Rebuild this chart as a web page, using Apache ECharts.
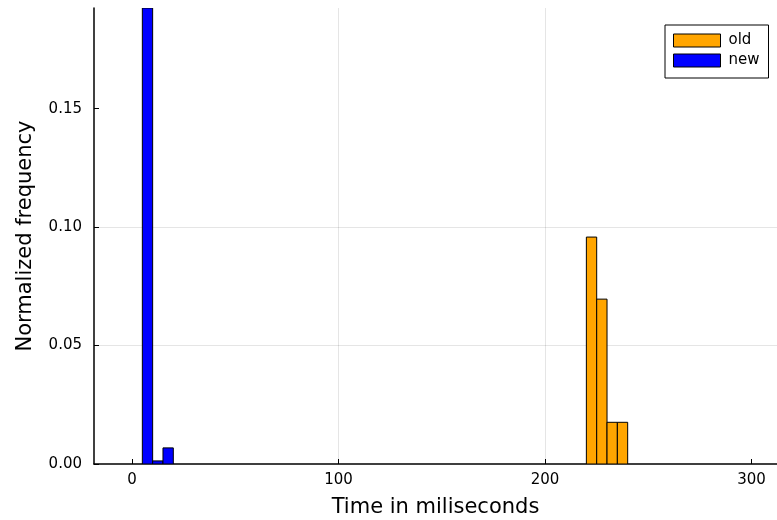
<!DOCTYPE html>
<html>
<head>
<meta charset="utf-8">
<script src="https://cdn.jsdelivr.net/npm/echarts@6/dist/echarts.min.js"></script>
<style>html,body{margin:0;padding:0;background:#fff}#c{width:777px;height:520px}</style>
</head>
<body>
<div id="c"></div>
<script>
var binWidth = 5;
var oldBinStarts = [220, 225, 230, 235];
var oldValues = [0.0958, 0.0696, 0.0176, 0.0176];
var newBinStarts = [5, 10, 15];
var newValues = [0.1925, 0.0013, 0.0068];
var xTicks = [0, 100, 200, 300];
var yTicks = [0, 0.05, 0.10, 0.15];
var xRange = [-18.4, 312.3];
var yRange = [0, 0.1925];

function toData(starts, vals) {
  return starts.map(function (s, i) { return [s, s + binWidth, vals[i]]; });
}
function render(color) {
  return function (params, api) {
    var p0 = api.coord([api.value(0), 0]);
    var p1 = api.coord([api.value(1), api.value(2)]);
    return {
      type: 'rect',
      shape: { x: p0[0], y: p1[1], width: p1[0] - p0[0], height: p0[1] - p1[1] },
      style: { fill: color, stroke: '#000', lineWidth: 1 }
    };
  };
}
var font = 'DejaVu Sans';
var chart = echarts.init(document.getElementById('c'), null, { renderer: 'canvas' });
chart.setOption({
  animation: false,
  backgroundColor: '#fff',
  textStyle: { fontFamily: font },
  grid: { left: 94, right: 0, top: 8, bottom: 56, containLabel: false, outerBoundsMode: 'none' },
  legend: {
    left: 665, top: 25, orient: 'vertical',
    padding: [8, 9, 10, 8],
    itemWidth: 47, itemHeight: 13, itemGap: 5,
    borderColor: '#000', borderWidth: 1, backgroundColor: '#fff',
    icon: 'rect',
    itemStyle: { borderColor: '#000', borderWidth: 1 },
    textStyle: { fontFamily: font, fontSize: 15, color: '#000', lineHeight: 13, padding: [0, 0, 0, 3] },
    data: ['old', 'new']
  },
  xAxis: {
    type: 'value', min: xRange[0], max: xRange[1],
    name: 'Time in miliseconds', nameLocation: 'middle', nameGap: 33,
    nameTextStyle: { fontFamily: font, fontSize: 21, color: '#000' },
    axisLine: { show: true, onZero: false, lineStyle: { color: '#000', width: 1.5 } },
    axisTick: { show: true, inside: true, length: 5, customValues: xTicks, lineStyle: { color: '#000' } },
    axisLabel: { customValues: xTicks, margin: 9, fontFamily: font, fontSize: 15, color: '#000',
      formatter: function (v) { return String(v); } },
    splitLine: { show: true, showMinLine: false, showMaxLine: false, lineStyle: { color: 'rgba(0,0,0,0.1)', width: 1 } }
  },
  yAxis: {
    type: 'value', min: yRange[0], max: yRange[1],
    name: 'Normalized frequency', nameLocation: 'middle', nameGap: 58, nameRotate: 90,
    nameTextStyle: { fontFamily: font, fontSize: 21, color: '#000' },
    axisLine: { show: true, onZero: false, lineStyle: { color: '#000', width: 1.5 } },
    axisTick: { show: true, inside: true, length: 5, customValues: yTicks, lineStyle: { color: '#000' } },
    axisLabel: { customValues: yTicks, margin: 12, fontFamily: font, fontSize: 15, color: '#000',
      formatter: function (v) { return v.toFixed(2); } },
    splitLine: { show: true, showMinLine: false, showMaxLine: false, lineStyle: { color: 'rgba(0,0,0,0.1)', width: 1 } }
  },
  series: [
    { name: 'old', type: 'custom', clip: true, itemStyle: { color: '#FFA500', borderColor: '#000' },
      renderItem: render('#FFA500'), encode: { x: [0, 1], y: 2 }, data: toData(oldBinStarts, oldValues) },
    { name: 'new', type: 'custom', clip: true, itemStyle: { color: '#0000FF', borderColor: '#000' },
      renderItem: render('#0000FF'), encode: { x: [0, 1], y: 2 }, data: toData(newBinStarts, newValues) }
  ]
});
</script>
</body>
</html>
